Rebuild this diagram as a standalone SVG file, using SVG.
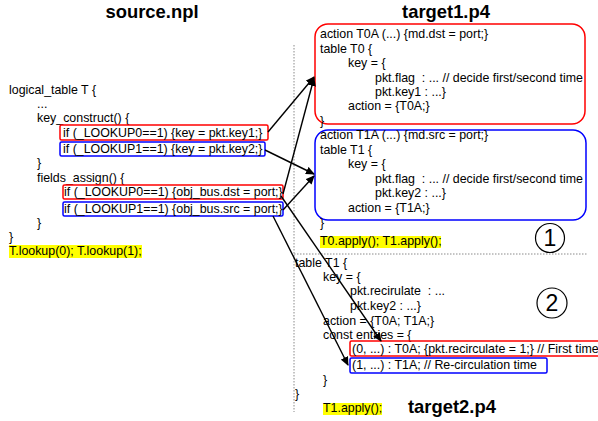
<svg xmlns="http://www.w3.org/2000/svg" width="598" height="421" viewBox="0 0 598 421">
<style>
text{font-family:"Liberation Sans",Arial,sans-serif;font-size:12.4px;fill:#000;white-space:pre}
.title{font-size:18.4px;font-weight:bold}
.num{font-size:23px}
.rbox{fill:none;stroke:#ff0000;stroke-width:1.5}
.bbox{fill:none;stroke:#0000ff;stroke-width:1.5}
.hl{fill:#ffff00}
.sep{fill:none;stroke:#8a8a8a;stroke-width:1;stroke-dasharray:1.5 1.5}
.conn{fill:none;stroke:#000;stroke-width:1.4;marker-end:url(#ah)}
.circ{fill:none;stroke:#000;stroke-width:1.2}
</style>
<defs>
<marker id="ah" markerWidth="9" markerHeight="8" refX="8" refY="4" orient="auto" markerUnits="userSpaceOnUse">
<path d="M0,0 L9,4 L0,8 z" fill="#000"/>
</marker>
</defs>
<rect width="598" height="421" fill="#fff"/>

<g id="separators">
<line class="sep" x1="294" y1="45" x2="294" y2="412"/>
<line class="sep" x1="294" y1="254" x2="587" y2="254"/>
</g>

<g id="source">
<text class="title" x="152" y="18" text-anchor="middle">source.npl</text>
<text x="9" y="94">logical_table T {</text>
<text x="37" y="108">...</text>
<text x="37" y="122">key_construct() {</text>
<text x="37" y="167">}</text>
<text x="37" y="182">fields_assign() {</text>
<text x="37" y="227">}</text>
<text x="9" y="241">}</text>
<rect class="hl" x="9" y="245" width="133" height="13"/>
<text x="9" y="255">T.lookup(0); T.lookup(1);</text>
</g>

<g id="src_key1">
<rect class="rbox" x="60" y="125" width="208" height="15" rx="1.5"/>
<text x="63" y="137">if (_LOOKUP0==1) {key = pkt.key1;}</text>
</g>
<g id="src_key2">
<rect class="bbox" x="60" y="142" width="205" height="14" rx="1.5"/>
<text x="63" y="153">if (_LOOKUP1==1) {key = pkt.key2;}</text>
</g>
<g id="src_dst">
<rect class="rbox" x="63" y="185" width="220" height="14" rx="1.5"/>
<text x="64" y="196">if (_LOOKUP0==1) {obj_bus.dst = port;}</text>
</g>
<g id="src_src">
<rect class="bbox" x="63" y="202" width="220" height="14" rx="1.5"/>
<text x="64" y="213">if (_LOOKUP1==1) {obj_bus.src = port;}</text>
</g>

<g id="target1">
<text class="title" x="446" y="18" text-anchor="middle">target1.p4</text>
<rect class="hl" x="320" y="236" width="121" height="12"/>
<text x="320" y="245">T0.apply(); T1.apply();</text>
<circle class="circ" cx="550" cy="238" r="14.5"/>
<text class="num" x="550" y="246" text-anchor="middle">1</text>
</g>

<g id="t1_T0">
<rect class="rbox" x="315" y="24" width="270" height="100" rx="13"/>
<text x="320" y="38">action T0A (...) {md.dst = port;}</text>
<text x="320" y="52.5">table T0 {</text>
<text x="348" y="67">key = {</text>
<text x="375" y="81.5">pkt.flag  : ... // decide first/second time</text>
<text x="375" y="96">pkt.key1 : ...}</text>
<text x="348" y="110">action = {T0A;}</text>
<text x="320" y="124.5">}</text>
</g>

<g id="t1_T1">
<rect class="bbox" x="315" y="130" width="271" height="90" rx="13"/>
<text x="320" y="139">action T1A (...) {md.src = port;}</text>
<text x="320" y="154">table T1 {</text>
<text x="348" y="168">key = {</text>
<text x="375" y="183">pkt.flag  : ... // decide first/second time</text>
<text x="375" y="197">pkt.key2 : ...}</text>
<text x="348" y="212">action = {T1A;}</text>
<text x="320" y="227">}</text>
</g>

<g id="target2">
<text x="295" y="267">table T1 {</text>
<text x="323" y="281">key = {</text>
<text x="350" y="295">pkt.recirulate  : ...</text>
<text x="350" y="310">pkt.key2 : ...}</text>
<text x="323" y="325">action = {T0A; T1A;}</text>
<text x="323" y="339">const entries = {</text>
<text x="323" y="384">}</text>
<text x="295" y="398">}</text>
<rect class="hl" x="323" y="403" width="59" height="12"/>
<text x="323" y="412">T1.apply();</text>
<text class="title" x="408" y="413">target2.p4</text>
<circle class="circ" cx="552" cy="303" r="15"/>
<text class="num" x="552" y="311" text-anchor="middle">2</text>
</g>

<g id="t2_entry0">
<rect class="rbox" x="350" y="341" width="260" height="15" rx="1.5"/>
<text x="352" y="353">(0, ...) : T0A; {pkt.recirculate = 1;} // First time</text>
</g>
<g id="t2_entry1">
<rect class="bbox" x="350" y="358" width="197" height="15" rx="1.5"/>
<text x="352" y="369">(1, ...) : T1A; // Re-circulation time</text>
</g>

<g id="connectors">
<line class="conn" x1="268" y1="132" x2="314" y2="77"/>
<line class="conn" x1="265" y1="150" x2="314" y2="174"/>
<line class="conn" x1="283" y1="194" x2="314" y2="78"/>
<line class="conn" x1="283" y1="210" x2="314" y2="176"/>
<line class="conn" x1="281" y1="196" x2="381" y2="341"/>
<line class="conn" x1="273" y1="216" x2="348" y2="365"/>
</g>
</svg>
